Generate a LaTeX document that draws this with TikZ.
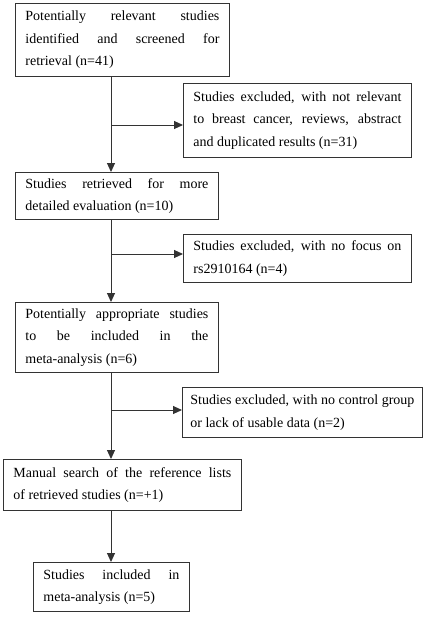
\documentclass[tikz,border=0pt]{standalone}
\usepackage{fontspec}
\setmainfont{Liberation Serif}
\usetikzlibrary{arrows.meta}
\hyphenpenalty=10000
\exhyphenpenalty=10000
\tolerance=10000
\hbadness=10000
\begin{document}
\begin{tikzpicture}[x=1pt,y=-1pt,
  box/.style={draw=black!80, line width=0.8pt, anchor=north west, align=justify,
    inner xsep=10pt, inner ysep=0pt,
    font=\fontsize{14pt}{22.5pt}\selectfont},
  flow/.style={draw=black!80, line width=1pt, -{Triangle[length=9pt,width=8pt]}}]
\useasboundingbox (0,0) rectangle (438,618);
\coordinate (spine) at (111,0);

\node[box, text width=194pt, minimum height=73pt] (b1) at (15,3)
  {\rightskip=10pt Potentially relevant studies\linebreak identified and screened for\linebreak retrieval (n=41)};
\node[box, text width=208pt, minimum height=74pt] (b2) at (183,83)
  {Studies excluded, with not relevant\linebreak to breast cancer, reviews, abstract\linebreak and duplicated results (n=31)};
\node[box, text width=183pt, minimum height=47pt] (b3) at (15,172)
  {Studies retrieved for more\linebreak detailed evaluation (n=10)};
\node[box, text width=208pt, minimum height=48pt] (b4) at (183,234)
  {Studies excluded, with no focus on\linebreak rs2910164 (n=4)};
\node[box, text width=183pt, minimum height=70pt] (b5) at (15,302)
  {Potentially appropriate studies\linebreak to be included in the\linebreak meta-analysis (n=6)};
\node[box, text width=224pt, inner xsep=8pt, minimum height=50pt] (b6) at (182,387)
  {Studies excluded, with no control group\linebreak or lack of usable data (n=2)};
\node[box, text width=218pt, minimum height=51pt] (b7) at (3,459)
  {\rightskip=10pt Manual search of the reference lists\linebreak of retrieved studies (n=+1)};
\node[box, text width=136pt, minimum height=49pt] (b8) at (33,562)
  {Studies included in\linebreak meta-analysis (n=5)};

\coordinate (j1) at (111,125);
\coordinate (j2) at (111,254);
\coordinate (j3) at (111,410);

\draw[flow] (spine |- b1.south) -- (spine |- b3.north);
\draw[flow] (j1) -- (j1 -| b2.west);
\draw[flow] (spine |- b3.south) -- (spine |- b5.north);
\draw[flow] (j2) -- (j2 -| b4.west);
\draw[flow] (spine |- b5.south) -- (spine |- b7.north);
\draw[flow] (j3) -- (j3 -| b6.west);
\draw[flow] (spine |- b7.south) -- (spine |- b8.north);
\end{tikzpicture}
\end{document}
